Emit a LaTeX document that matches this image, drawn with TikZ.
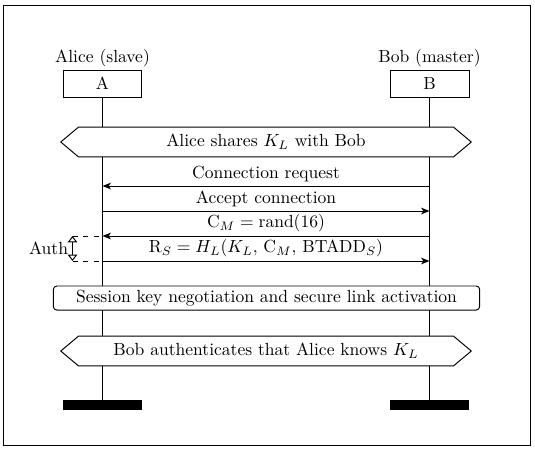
\documentclass[tikz,border=0pt]{standalone}
\usetikzlibrary{arrows.meta,shapes.symbols}
\begin{document}
\begin{tikzpicture}[x=0.57pt,y=-0.57pt,line width=0.55pt,
  inst/.style={draw, minimum width=45pt, minimum height=15.4pt, inner sep=0pt},
  endbar/.style={fill=black, draw=none, minimum width=45pt, minimum height=5.7pt, inner sep=0pt},
  hexa/.style={signal, signal to=east and west, draw, fill=white, minimum width=234pt, minimum height=17pt, signal pointer angle=80, inner sep=0pt},
  sess/.style={draw, fill=white, rounded corners=2pt, minimum width=243pt, minimum height=13.7pt, inner sep=0pt},
  msg/.style={-{Stealth[length=4.8pt,width=3.8pt,inset=1.3pt]}},
  msgtext/.style={above, inner sep=2pt},
  authtip/.style={{Triangle[open,length=3.6pt,width=5.4pt]}-{Triangle[open,length=3.6pt,width=5.4pt]}}]
\useasboundingbox (0,0) rectangle (535,450);
\draw (3,5) rectangle (530,445);
% instances
\node[inst] (A) at (102.5,83.5) {A};
\node[inst] (B) at (429.5,83.5) {B};
\node[above, inner sep=1.5pt] (Alab) at (A.north) {Alice (slave)};
\node[above, inner sep=1.5pt] (Blab) at (B.north) {Bob (master)};
\node[endbar] (Aend) at (102.5,405) {};
\node[endbar] (Bend) at (429.5,405) {};
% lifelines
\draw (A.south) -- (Aend.north);
\draw (B.south) -- (Bend.north);
% condition
\node[hexa] (h1) at (266,142) {Alice shares $K_L$ with Bob};
% messages
\coordinate (a1) at (102.5,186); \coordinate (b1) at (429.5,186);
\coordinate (a2) at (102.5,211); \coordinate (b2) at (429.5,211);
\coordinate (a3) at (102.5,236); \coordinate (b3) at (429.5,236);
\coordinate (a4) at (102.5,261); \coordinate (b4) at (429.5,261);
\draw[msg] (b1) -- node[msgtext] (m1) {Connection request} (a1);
\draw[msg] (a2) -- node[msgtext] (m2) {Accept connection} (b2);
\draw[msg] (b3) -- node[msgtext] (m3) {$\mathrm{C}_M = \mathrm{rand}(16)$} (a3);
\draw[msg] (a4) -- node[msgtext] (m4) {$\mathrm{R}_S = H_L(K_L,\,\mathrm{C}_M,\,\mathrm{BTADD}_S)$} (b4);
% auth
\coordinate (d1) at (72.5,236); \coordinate (d2) at (72.5,261);
\draw[dashed] (d1) -- (a3);
\draw[dashed] (d2) -- (a4);
\draw[authtip] (d1) -- (d2);
\node[anchor=east, inner sep=0pt] (auth) at (68.5,248.5) {Auth};
% session
\node[sess] (s) at (266.5,298) {Session key negotiation and secure link activation};
% condition 2
\node[hexa] (h2) at (266,351) {Bob authenticates that Alice knows $K_L$};
\end{tikzpicture}
\end{document}
